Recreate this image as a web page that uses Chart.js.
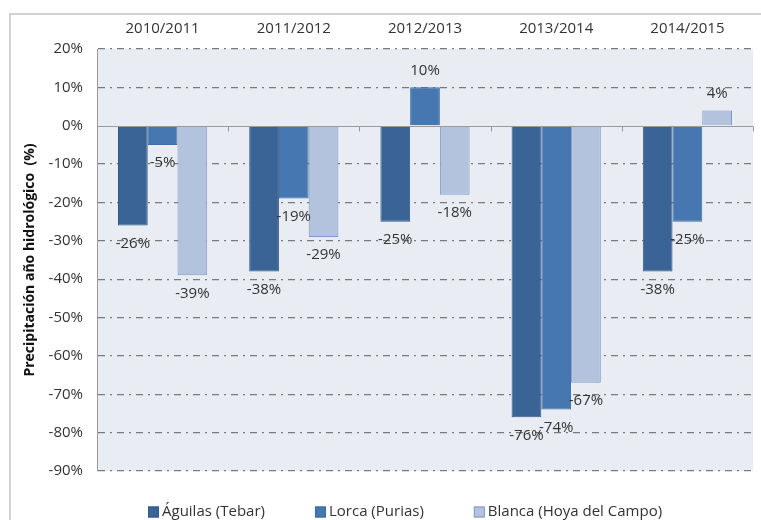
<!DOCTYPE html>
<html>
<head>
<meta charset="utf-8">
<script src="https://cdn.jsdelivr.net/npm/chart.js@4/dist/chart.umd.min.js"></script>
<style>
  html, body { margin: 0; padding: 0; background: #fff; overflow: hidden; }
  #wrap { width: 761px; height: 520px; }
</style>
</head>
<body>
<div id="wrap"><canvas id="chart"></canvas></div>
<script>
// Hydrological years and precipitation anomaly per station (%)
const years = ['2010/2011', '2011/2012', '2012/2013', '2013/2014', '2014/2015'];
const aguilas = [-26, -38, -25, -76, -38];
const lorca = [-5, -19, 10, -74, -25];
const blanca = [-39, -29, -18, -67, 4];
const stationNames = ['Águilas (Tebar)', 'Lorca (Purias)', 'Blanca (Hoya del Campo)'];
const stationColors = ['#3b6496', '#4677b0', '#b3c3dd'];
const stationBorders = ['#335a88', '#3e6ca3', '#7d9ac6'];

const FONT = 'Open Sans';
const TEXT = '#333333';

// plot background + outer frame
const backdrop = {
    id: 'backdrop',
    beforeDraw(chart) {
        const {ctx, chartArea: a} = chart;
        ctx.save();
        ctx.fillStyle = '#e9edf3';
        ctx.fillRect(a.left, a.top, a.right - a.left, a.bottom - a.top);
        ctx.strokeStyle = '#c4c4c4';
        ctx.lineWidth = 1.5;
        ctx.beginPath();
        ctx.moveTo(10, chart.height);
        ctx.lineTo(10, 14);
        ctx.lineTo(chart.width, 14);
        ctx.stroke();
        ctx.restore();
    }
};

// solid zero line with small ticks between the year groups
const zeroLine = {
    id: 'zeroLine',
    afterDatasetsDraw(chart) {
        const {ctx, chartArea: a, scales} = chart;
        const y0 = Math.round(scales.y.getPixelForValue(0)) + 0.5;
        ctx.save();
        ctx.strokeStyle = '#9a9a9a';
        ctx.lineWidth = 1;
        ctx.beginPath();
        ctx.moveTo(a.left, y0);
        ctx.lineTo(a.right, y0);
        const step = (a.right - a.left) / years.length;
        for (let i = 1; i <= years.length; i++) {
            const x = Math.round(a.left + i * step) + 0.5;
            ctx.moveTo(x, y0);
            ctx.lineTo(x, y0 + 5);
        }
        ctx.stroke();
        ctx.restore();
    }
};

// value labels beyond the end of each bar
const valueLabels = {
    id: 'valueLabels',
    afterDatasetsDraw(chart) {
        const {ctx} = chart;
        ctx.save();
        ctx.font = '15px "' + FONT + '"';
        ctx.fillStyle = TEXT;
        ctx.textAlign = 'center';
        ctx.textBaseline = 'middle';
        chart.data.datasets.forEach((ds, i) => {
            chart.getDatasetMeta(i).data.forEach((bar, j) => {
                const v = ds.data[j];
                const y = bar.y + (v < 0 ? 18 : -17);
                ctx.fillText(v + '%', bar.x, y);
            });
        });
        ctx.restore();
    }
};

// legend row under the plot
const legendRow = {
    id: 'legendRow',
    afterDraw(chart) {
        const {ctx} = chart;
        ctx.save();
        ctx.font = '15px "' + FONT + '"';
        ctx.textBaseline = 'middle';
        let x = 148;
        const y = 512;
        chart.data.datasets.forEach(ds => {
            ctx.fillStyle = ds.backgroundColor;
            ctx.fillRect(x, y - 5.5, 11, 11);
            ctx.strokeStyle = ds.borderColor;
            ctx.lineWidth = 1;
            ctx.strokeRect(x + 0.5, y - 5, 10, 10);
            ctx.fillStyle = TEXT;
            ctx.fillText(ds.label, x + 14, y);
            x += 14 + ctx.measureText(ds.label).width + 50;
        });
        ctx.restore();
    }
};

new Chart(document.getElementById('chart'), {
    type: 'bar',
    data: {
        labels: years,
        datasets: [aguilas, lorca, blanca].map((values, i) => ({
            label: stationNames[i],
            data: values,
            backgroundColor: stationColors[i],
            borderColor: stationBorders[i],
            borderWidth: 1,
            categoryPercentage: 0.68,
            barPercentage: 1
        }))
    },
    options: {
        responsive: true,
        maintainAspectRatio: false,
        animation: false,
        layout: { padding: { left: 0, top: 0, right: 8, bottom: 49 } },
        plugins: {
            legend: { display: false },
            tooltip: { enabled: false }
        },
        scales: {
            x: {
                position: 'top',
                grid: { display: false },
                border: { display: false },
                ticks: {
                    color: TEXT,
                    font: { family: FONT, size: 15 },
                    padding: 3
                },
                afterFit(scale) { scale.height = 49; }
            },
            y: {
                min: -90,
                max: 20,
                grid: {
                    color: ctx => ctx.tick.value === 0 ? 'rgba(0,0,0,0)' : '#7a7a7a',
                    drawTicks: false,
                    lineWidth: 1.2
                },
                border: { color: '#9a9a9a', width: 1, dash: [7, 5, 2, 5] },
                ticks: {
                    stepSize: 10,
                    color: TEXT,
                    font: { family: FONT, size: 15 },
                    padding: 14,
                    callback: v => v + '%'
                },
                title: {
                    display: true,
                    text: 'Precipitación año hidrológico  (%)',
                    color: '#111111',
                    font: { family: FONT, size: 14, weight: 'bold' },
                    padding: { top: 22 }
                },
                afterFit(scale) { scale.width = 97; }
            }
        }
    },
    plugins: [backdrop, zeroLine, valueLabels, legendRow]
});
</script>
</body>
</html>
